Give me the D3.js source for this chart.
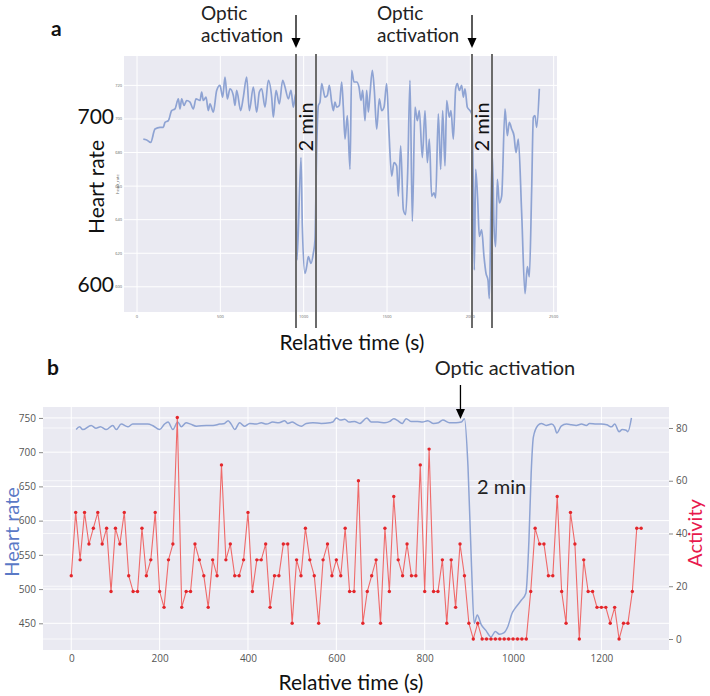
<!DOCTYPE html>
<html><head><meta charset="utf-8">
<script src="https://cdn.jsdelivr.net/npm/d3@7"></script>
<style>body{margin:0;background:#fff}svg{display:block}</style>
</head><body>
<svg id="c" width="710" height="696"></svg>
<script>
// ---------------- DATA ----------------
// Panel a: heart rate over relative time (s)
const aHeartRate = [[38,688],[58,687.5],[82,686],[108,694],[138,695],[158,695],[168,698],[188,699],[208,705],[228,706],[248,712],[258,706],[268,712],[282,708],[298,711],[318,710],[338,706],[354,712],[378,711],[388,716],[398,711],[414,713],[428,705],[438,709],[458,704],[478,717],[498,720],[514,713],[528,725],[542,712],[558,718],[578,714],[588,708],[598,717],[622,705],[638,713],[658,725],[674,705],[698,719],[718,704],[734,716],[748,718],[768,707],[788,723],[808,713],[818,701],[834,717],[854,709],[874,723],[888,719],[908,712],[924,717],[938,707],[952,715],
[960,616],[984,677],[992,636],[1008,608],[1018,612],[1028,618],[1044,614],[1058,620],[1068,628],[1078,682],[1088,708],[1098,710],[1108,721],[1118,717],[1128,713],[1142,714],[1154,720],[1168,710],[1178,705],[1188,710],[1198,707],[1214,708],[1228,722],[1238,707],[1248,688],[1262,702],[1278,670],[1288,729],[1302,722],[1318,722],[1332,719],[1344,711],[1354,717],[1368,699],[1378,717],[1388,704],[1398,715],[1412,729],[1424,717],[1438,694],[1454,712],[1468,705],[1482,707],[1498,721],[1512,692],[1528,666],[1542,674],[1558,672],[1568,654],[1582,684],[1598,646],[1612,643],[1624,668],[1638,723],[1652,639],[1668,707],[1682,699],[1694,705],[1712,677],[1728,705],[1742,674],[1754,688],[1768,654],[1782,656],[1792,653],[1808,703],[1822,670],[1834,705],[1848,672],[1858,711],[1874,701],[1884,705],[1898,688],[1912,718],[1922,721],[1934,717],[1948,720],[1958,713],[1968,718],[1982,707],[1998,705],[2008,703],[2018,658],[2024,610],[2032,670],[2044,652],[2054,630],[2068,634],[2082,618],[2094,608],[2106,604],[2114,593],[2124,648],[2132,679],[2142,636],[2152,624],[2162,664],[2174,650],[2188,654],[2208,706],[2222,690],[2234,698],[2248,694],[2262,690],[2274,680],[2288,688],[2308,644],[2328,596],[2342,612],[2354,606],[2368,658],[2378,701],[2388,702],[2398,695],[2414,718]];
const aActivationStarts = [954, 2010];   // s
const aActivationLength = 120;           // 2 min
const aXTicks = [0, 500, 1000, 1500, 2000, 2500];
const aYTicks = [600, 620, 640, 660, 680, 700, 720];
const aBigYLabels = [700, 600];

// Panel b: heart rate (left axis) and activity (right axis)
const bHeartRate = [[11,733],[19,737],[26,733],[45,739],[56,735],[66,737],[79,733],[94,739],[102,733],[113,741],[128,737],[139,741],[154,741],[173,741],[184,739],[200,733],[211,741],[219,744],[230,733],[241,744],[249,737],[260,743],[270,741],[283,738],[306,739],[321,739],[336,741],[347,742],[355,746],[362,741],[370,733],[381,743],[392,738],[404,742],[419,741],[430,743],[442,741],[456,744],[470,743],[483,746],[490,742],[500,744],[509,741],[521,738],[532,742],[547,743],[566,742],[585,743],[592,744],[600,750],[609,747],[619,748],[629,744],[641,745],[653,742],[669,750],[679,744],[694,744],[710,743],[721,745],[730,749],[739,746],[749,742],[758,749],[769,745],[784,745],[795,744],[807,746],[820,742],[831,743],[841,747],[856,743],[871,743],[883,744],[890,749],[898,679],[906,533],[912,450],[919,462],[928,448],[938,440],[950,430],[960,438],[969,434],[979,436],[988,445],[998,465],[1007,474],[1019,484],[1029,494],[1036,572],[1041,669],[1046,722],[1056,739],[1064,742],[1075,739],[1087,741],[1094,737],[1099,728],[1109,738],[1121,741],[1132,740],[1143,739],[1155,741],[1166,739],[1173,742],[1189,741],[1200,741],[1212,740],[1223,737],[1230,741],[1240,730],[1247,733],[1256,732],[1260,730],[1268,750]];
const bActivityTime = [0,10,20,30,40,50,60,70,80,90,100,110,120,130,140,150,160,170,180,190,200,210,220,230,240,250,260,270,280,290,300,310,320,330,340,350,360,370,380,390,400,410,420,430,440,450,460,470,480,490,500,510,520,530,540,550,560,570,580,590,600,610,620,630,640,650,660,670,680,690,700,710,720,730,740,750,760,770,780,790,800,810,820,830,840,850,860,870,880,890,900,910,920,930,940,950,960,970,980,990,1000,1010,1020,1030,1040,1050,1060,1070,1080,1090,1100,1110,1120,1130,1140,1150,1160,1170,1180,1190,1200,1210,1220,1230,1240,1250,1260,1270,1280,1290];
const bActivity = [24,48,30,48,36,42,48,36,42,18,42,36,48,24,18,18,42,24,30,48,18,12,30,36,84,12,18,18,36,30,24,12,30,24,66,30,36,24,24,30,48,18,30,30,36,12,24,24,36,36,6,30,24,42,30,24,6,30,36,24,30,24,42,18,18,60,6,18,24,30,6,42,18,54,30,24,36,24,24,66,18,72,18,18,30,6,30,12,36,24,6,0,6,0,0,0,0,0,0,0,0,0,0,0,18,42,36,36,24,24,54,18,6,48,36,0,30,18,18,12,12,12,6,12,0,6,6,18,42,42];
const bActivation = 890;  // s
const bXTicks = [0, 200, 400, 600, 800, 1000, 1200];
const bYTicksLeft = [450, 500, 550, 600, 650, 700, 750];
const bYTicksRight = [0, 20, 40, 60, 80];

// ---------------- DRAW ----------------
const svg = d3.select("#c");
const TXT = "Lato, 'Open Sans', sans-serif";
const TICK = "'Open Sans', sans-serif";
const BG = "#eaeaf2";
const BLUE = "#8ea3d3";

function arrow(g, x, y0, y1) {
  g.append("line").attr("x1", x).attr("x2", x).attr("y1", y0).attr("y2", y1 - 8)
    .attr("stroke", "#000").attr("stroke-width", 1.3);
  g.append("path").attr("d", `M${x-4.5},${y1-10}L${x+4.5},${y1-10}L${x},${y1}Z`).attr("fill", "#000");
}

// ===== Panel a =====
{
  const x = d3.scaleLinear().domain([-78, 2520]).range([124, 557]);
  const y = d3.scaleLinear().domain([585, 737.5]).range([312, 56]);
  const g = svg.append("g");
  g.append("rect").attr("x", 124).attr("y", 56).attr("width", 433).attr("height", 256).attr("fill", BG);
  g.append("g").selectAll("line").data(aYTicks).join("line")
    .attr("x1", 124).attr("x2", 557).attr("y1", d => y(d)).attr("y2", d => y(d))
    .attr("stroke", "#fff").attr("stroke-width", 1);
  g.append("g").selectAll("line").data(aXTicks).join("line")
    .attr("y1", 56).attr("y2", 312).attr("x1", d => x(d)).attr("x2", d => x(d))
    .attr("stroke", "#fff").attr("stroke-width", 1);
  // tiny original tick labels
  g.append("g").selectAll("text").data(aYTicks).join("text")
    .attr("x", 122).attr("y", d => y(d) + 1.5).attr("text-anchor", "end")
    .attr("font-family", TICK).attr("font-size", 4).attr("fill", "#666").text(d => d);
  g.append("g").selectAll("text").data(aXTicks).join("text")
    .attr("x", d => x(d)).attr("y", 318).attr("text-anchor", "middle")
    .attr("font-family", TICK).attr("font-size", 4).attr("fill", "#666").text(d => d);
  g.append("text").attr("transform", "translate(119,184) rotate(-90)").attr("text-anchor", "middle")
    .attr("font-family", TICK).attr("font-size", 4).attr("fill", "#666").text("heart_rate");

  const line = d3.line().x(d => x(d[0])).y(d => y(d[1])).curve(d3.curveMonotoneX);
  g.append("path").datum(aHeartRate).attr("d", line).attr("fill", "none")
    .attr("stroke", BLUE).attr("stroke-width", 1.7).attr("stroke-linejoin", "round");

  // activation markers
  aActivationStarts.forEach(s => {
    [s, s + aActivationLength].forEach(t => {
      g.append("line").attr("x1", x(t)).attr("x2", x(t)).attr("y1", 54).attr("y2", 328)
        .attr("stroke", "#6b6b6b").attr("stroke-width", 2);
    });
    const xm = x(s + aActivationLength) - 3;
    g.append("text").attr("transform", `translate(${xm},127) rotate(-90)`).attr("text-anchor", "middle")
      .attr("font-family", TXT).attr("font-size", 20).attr("fill", "#111").text("2 min");
    arrow(g, x(s), 15, 48);
    const lab = g.append("text").attr("font-family", TXT).attr("font-size", 19).attr("fill", "#222");
    lab.append("tspan").attr("x", x(s) - 95).attr("y", 20).text("Optic");
    lab.append("tspan").attr("x", x(s) - 95).attr("y", 42).text("activation");
  });

  aBigYLabels.forEach(v => {
    g.append("text").attr("x", 114).attr("y", y(v) + 5).attr("text-anchor", "end")
      .attr("font-family", TXT).attr("font-size", 21).attr("fill", "#111").text(v);
  });
  g.append("text").attr("transform", "translate(104,187) rotate(-90)").attr("text-anchor", "middle")
    .attr("font-family", TXT).attr("font-size", 21).attr("fill", "#111").text("Heart rate");
  g.append("text").attr("x", 352).attr("y", 350).attr("text-anchor", "middle")
    .attr("font-family", TXT).attr("font-size", 21).attr("fill", "#111").text("Relative time (s)");
  g.append("text").attr("x", 51).attr("y", 36).attr("font-family", TXT).attr("font-weight", "bold")
    .attr("font-size", 21).attr("fill", "#111").text("a");
}

// ===== Panel b =====
{
  const x = d3.scaleLinear().domain([-64, 1353]).range([43, 669]);
  const yL = d3.scaleLinear().domain([411, 766]).range([650, 407]);
  const yR = d3.scaleLinear().domain([-4.17, 87.96]).range([650, 407]);
  const g = svg.append("g");
  g.append("rect").attr("x", 43).attr("y", 407).attr("width", 626).attr("height", 243).attr("fill", BG);
  const grid = g.append("g").attr("stroke", "#fff").attr("stroke-width", 1);
  bYTicksLeft.forEach(v => grid.append("line").attr("x1", 43).attr("x2", 669).attr("y1", yL(v)).attr("y2", yL(v)));
  bYTicksRight.forEach(v => grid.append("line").attr("x1", 43).attr("x2", 669).attr("y1", yR(v)).attr("y2", yR(v)).attr("stroke-opacity", 0.7));
  bXTicks.forEach(v => grid.append("line").attr("y1", 407).attr("y2", 650).attr("x1", x(v)).attr("x2", x(v)));

  const fmt = d3.format("d");
  const axL = g.append("g").attr("transform", "translate(43,0)")
    .call(d3.axisLeft(yL).tickValues(bYTicksLeft).tickFormat(fmt).tickSize(4).tickPadding(3));
  const axR = g.append("g").attr("transform", "translate(669,0)")
    .call(d3.axisRight(yR).tickValues(bYTicksRight).tickFormat(fmt).tickSize(4).tickPadding(3));
  const axB = g.append("g").attr("transform", "translate(0,650)")
    .call(d3.axisBottom(x).tickValues(bXTicks).tickFormat(fmt).tickSize(0).tickPadding(5));
  [axL, axR, axB].forEach(a => {
    a.select(".domain").remove();
    a.selectAll("line").attr("stroke", "#888");
    a.selectAll("text").attr("font-family", TICK).attr("font-size", 10).attr("fill", "#555");
  });

  const hrLine = d3.line().x(d => x(d[0])).y(d => yL(d[1])).curve(d3.curveMonotoneX);
  g.append("path").datum(bHeartRate).attr("d", hrLine).attr("fill", "none")
    .attr("stroke", BLUE).attr("stroke-width", 1.5);

  const act = bActivityTime.map((t, i) => [t, bActivity[i]]);
  const actLine = d3.line().x(d => x(d[0])).y(d => yR(d[1]));
  g.append("path").datum(act).attr("d", actLine).attr("fill", "none")
    .attr("stroke", "#ef6a6a").attr("stroke-width", 1.1);
  g.append("g").selectAll("circle").data(act).join("circle")
    .attr("cx", d => x(d[0])).attr("cy", d => yR(d[1])).attr("r", 1.7).attr("fill", "#e3262b");

  arrow(g, x(bActivation) - 4, 385, 419);
  g.append("text").attr("x", 505).attr("y", 375).attr("text-anchor", "middle")
    .attr("font-family", TXT).attr("font-size", 20).attr("fill", "#222").text("Optic activation");
  g.append("text").attr("x", 477).attr("y", 494)
    .attr("font-family", TXT).attr("font-size", 20).attr("fill", "#222").text("2 min");
  g.append("text").attr("x", 47).attr("y", 375).attr("font-family", TXT).attr("font-weight", "bold")
    .attr("font-size", 21).attr("fill", "#111").text("b");
  g.append("text").attr("transform", "translate(19,532) rotate(-90)").attr("text-anchor", "middle")
    .attr("font-family", TXT).attr("font-size", 20).attr("fill", "#5a79c6").text("Heart rate");
  g.append("text").attr("transform", "translate(702,533) rotate(-90)").attr("text-anchor", "middle")
    .attr("font-family", TXT).attr("font-size", 20).attr("fill", "#e8194d").text("Activity");
  g.append("text").attr("x", 351).attr("y", 690).attr("text-anchor", "middle")
    .attr("font-family", TXT).attr("font-size", 21).attr("fill", "#111").text("Relative time (s)");
}
</script>
</body></html>
